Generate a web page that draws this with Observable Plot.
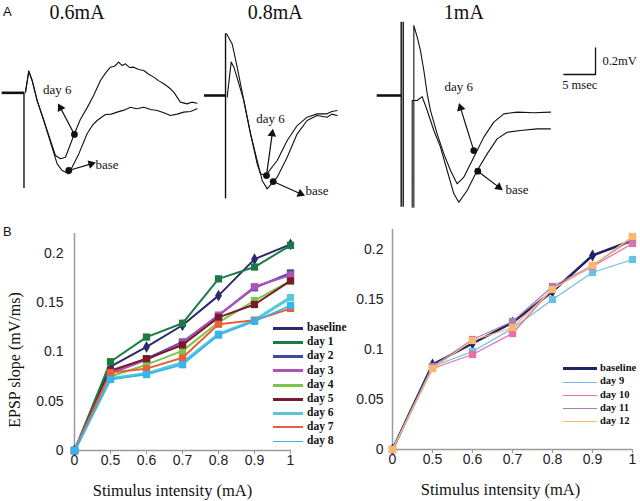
<!DOCTYPE html>
<html><head><meta charset="utf-8">
<script src="https://cdn.jsdelivr.net/npm/d3@7"></script>
<script src="https://cdn.jsdelivr.net/npm/@observablehq/plot@0.6"></script>
<style>
body{margin:0;background:#fff;}
#fig{position:relative;width:640px;height:501px;overflow:hidden;background:#fff;}
#fig svg{position:absolute;overflow:visible;}
.lbl{position:absolute;white-space:nowrap;}
g[aria-label="x-axis tick"] path, g[aria-label="x-axis"] .tick line{stroke:#999;}
</style></head><body><div id="fig"></div>
<script>
// ---------- Panel B data ----------
const intensities = ["0","0.5","0.6","0.7","0.8","0.9","1"];
const yTicks = [0, 0.05, 0.1, 0.15, 0.2];
const xTitle = "Stimulus intensity (mA)";
const yTitle = "EPSP slope (mV/ms)";

const leftNames  = ["baseline","day 1","day 2","day 3","day 4","day 5","day 6","day 7","day 8"];
const leftColors = ["#2b2a6e","#1e7a45","#3c4aa0","#b050b8","#7cc44a","#7a1a2a","#56c8da","#e8603a","#34b4f0"];
const baselineL = [0, 0.085, 0.105, 0.127, 0.157, 0.194, 0.209];
const day1  = [0, 0.090, 0.115, 0.129, 0.174, 0.186, 0.208];
const day2  = [0, 0.079, 0.093, 0.110, 0.137, 0.165, 0.180];
const day3  = [0, 0.078, 0.092, 0.109, 0.137, 0.166, 0.178];
const day4  = [0, 0.075, 0.087, 0.101, 0.130, 0.152, 0.172];
const day5  = [0, 0.081, 0.093, 0.107, 0.135, 0.148, 0.172];
const day6  = [0, 0.073, 0.078, 0.089, 0.118, 0.132, 0.155];
const day7  = [0, 0.079, 0.083, 0.094, 0.128, 0.132, 0.144];
const day8  = [0, 0.072, 0.077, 0.087, 0.117, 0.131, 0.147];
const leftValues = [baselineL, day1, day2, day3, day4, day5, day6, day7, day8];

const rightNames  = ["baseline","day 9","day 10","day 11","day 12"];
const rightColors = ["#222266","#6cc0e8","#e870a8","#a880b8","#f8b870"];
const baselineR = [0, 0.085, 0.106, 0.127, 0.158, 0.194, 0.209];
const day9  = [0, 0.083, 0.098, 0.121, 0.150, 0.177, 0.190];
const day10 = [0, 0.081, 0.095, 0.116, 0.161, 0.183, 0.206];
const day11 = [0, 0.083, 0.110, 0.128, 0.163, 0.184, 0.211];
const day12 = [0, 0.081, 0.109, 0.122, 0.160, 0.184, 0.213];
const rightValues = [baselineR, day9, day10, day11, day12];

// ---------- Panel A data (time in ms from stimulus, voltage in mV from baseline) ----------
const stimuli = ["0.6mA","0.8mA","1mA"];
const trace06Day6 = [[0.24,0.005],[0.76,0.163],[1.29,0.093],[2.08,-0.058],[3.13,-0.208],[4.18,-0.358],[4.97,-0.471],[5.76,-0.496],[6.55,-0.484],[7.97,-0.308],[8.9,-0.2],[9.97,-0.113],[11.0,-0.02],[12.08,0.093],[12.9,0.15],[13.66,0.193],[14.3,0.2],[14.97,0.231],[15.5,0.205],[16.03,0.218],[16.7,0.19],[17.34,0.193],[18.1,0.175],[18.92,0.168],[19.7,0.14],[20.5,0.118],[21.3,0.09],[22.08,0.068],[22.9,0.04],[23.66,0.005],[24.71,-0.07],[25.76,-0.083],[26.5,-0.07],[27.34,-0.078]];
const trace06Base = [[0.24,0.005],[0.76,0.163],[1.29,0.093],[2.08,-0.058],[3.13,-0.208],[4.18,-0.371],[5.24,-0.534],[6.03,-0.584],[7.08,-0.609],[8.66,-0.459],[9.97,-0.308],[10.8,-0.245],[11.55,-0.208],[12.87,-0.163],[13.8,-0.16],[14.71,-0.145],[15.8,-0.13],[16.82,-0.108],[17.8,-0.12],[18.92,-0.108],[20.0,-0.125],[21.03,-0.133],[22.1,-0.15],[23.13,-0.17],[24.2,-0.16],[25.24,-0.145],[26.3,-0.14],[27.34,-0.12]];
const trace08Base = [[0.16,0.464],[1.05,0.388],[1.84,0.213],[2.89,-0.038],[3.95,-0.288],[5.0,-0.489],[5.79,-0.639],[6.58,-0.702],[8.16,-0.614],[9.74,-0.464],[11.32,-0.288],[12.89,-0.188],[14.47,-0.15],[16.05,-0.163],[16.8,-0.14],[17.63,-0.15]];
const trace08Day6 = [[0.26,-0.013],[0.89,0.251],[1.32,0.213],[2.11,0.088],[2.89,-0.038],[3.95,-0.288],[5.0,-0.514],[5.53,-0.589],[6.32,-0.602],[8.16,-0.489],[9.74,-0.338],[11.32,-0.226],[12.89,-0.163],[14.47,-0.138],[16.05,-0.138],[16.8,-0.12],[17.63,-0.113]];
const trace1Day6 = [[2.0,-0.84],[2.0,0.526],[2.53,0.439],[3.05,0.338],[3.58,0.188],[4.11,0.013],[4.63,-0.113],[5.68,-0.288],[6.74,-0.439],[7.79,-0.564],[8.84,-0.664],[9.89,-0.614],[11.47,-0.464],[13.05,-0.313],[14.63,-0.2],[16.21,-0.138],[18.32,-0.125],[20.95,-0.13],[23.58,-0.125]];
const trace1Base = [[1.74,-0.84],[1.74,-0.038],[2.53,-0.038],[3.32,-0.008],[4.11,-0.113],[5.16,-0.263],[6.21,-0.388],[7.26,-0.564],[8.32,-0.739],[9.11,-0.802],[10.42,-0.714],[12.0,-0.564],[13.58,-0.439],[15.16,-0.326],[16.74,-0.276],[18.84,-0.263],[21.47,-0.251],[23.58,-0.251]];
const traces = [
  {stim:"0.6mA", cond:"day 6", pts:trace06Day6}, {stim:"0.6mA", cond:"base", pts:trace06Base},
  {stim:"0.8mA", cond:"day 6", pts:trace08Day6}, {stim:"0.8mA", cond:"base", pts:trace08Base},
  {stim:"1mA", cond:"day 6", pts:trace1Day6},    {stim:"1mA", cond:"base", pts:trace1Base}
];
// pre-stimulus baseline segments [tStart, tEnd]
const preStim = {"0.6mA":[-3.45,0.1], "0.8mA":[-3.32,0.05], "1mA":[-3.79,0.1]};
// stimulus artifacts [t, vTop, vBottom]
const artifacts = {"0.6mA":[[0,0,-0.72]], "0.8mA":[[0,0.464,-0.777]], "1mA":[[0,0.551,-0.84],[0.32,0.551,-0.84]]};
// marked points and arrows: [dotT, dotV, tipT, tipV]
const markers = [
  {stim:"0.6mA", cond:"day 6", a:[7.97,-0.313,5.76,-0.113]}, {stim:"0.6mA", cond:"base", a:[7.08,-0.584,10.61,-0.534]},
  {stim:"0.8mA", cond:"day 6", a:[6.47,-0.602,7.37,-0.288]}, {stim:"0.8mA", cond:"base", a:[7.53,-0.647,11.84,-0.739]},
  {stim:"1mA", cond:"day 6", a:[11.47,-0.414,9.37,-0.093]},  {stim:"1mA", cond:"base", a:[12.1,-0.569,15.42,-0.689]}
];
const annot = [
  {stim:"0.6mA", text:"day 6", t:5.24, v:0.023, anchor:"middle"}, {stim:"0.6mA", text:"base", t:11.3, v:-0.541, anchor:"start"},
  {stim:"0.8mA", text:"day 6", t:7.11, v:-0.175, anchor:"middle"}, {stim:"0.8mA", text:"base", t:12.63, v:-0.714, anchor:"start"},
  {stim:"1mA", text:"day 6", t:9.1, v:0.068, anchor:"middle"},   {stim:"1mA", text:"base", t:16.47, v:-0.707, anchor:"start"}
];
const scaleBarMs = 5, scaleBarMv = 0.2;

// ---------- layout ----------
const pxPerMs = 6.33, pxPerMv = 133;
const offMs = {"0.6mA":3.71, "0.8mA":35.55, "1mA":63.3};
const offMv = {"0.6mA":0.02, "0.8mA":0, "1mA":0};
const titlePos = {"0.6mA":12.1, "0.8mA":43.4, "1mA":73.2};
const titleV = 0.62;
const barCorner = {t:94.0, v:0.158};
const SERIF = "'Liberation Serif','Times New Roman',serif";
const SANS = "'Liberation Sans',Arial,sans-serif";
const fig = document.getElementById("fig");

// ---------- Panel A ----------
const traceRows = traces.flatMap((tr, k) => tr.pts.map(([t, v]) => ({id:k, t:t + offMs[tr.stim], v:v + offMv[tr.stim]})));
const preRows = stimuli.map(s => ({t1:preStim[s][0] + offMs[s], t2:preStim[s][1] + offMs[s], v:offMv[s]}));
const artRows = stimuli.flatMap(s => artifacts[s].map(([t, v1, v2]) => ({t:t + offMs[s], v1:v1 + offMv[s], v2:v2 + offMv[s]})));
const arrRows = markers.map(m => {
  const [a, b, c, d] = m.a, o = offMs[m.stim], ov = offMv[m.stim];
  const dx = (c - a) * pxPerMs, dy = -(d - b) * pxPerMv;
  return {x1:a + o, y1:b + ov, x2:c + o, y2:d + ov, rot:Math.atan2(dx, -dy) * 180 / Math.PI};
});
const annRows = annot.map(a => ({x:a.t + offMs[a.stim], y:a.v + offMv[a.stim], text:a.text, anchor:a.anchor}));
const titleRows = stimuli.map(s => ({x:titlePos[s], y:titleV, text:s}));
const barRows = [{t:barCorner.t - scaleBarMs, v:barCorner.v}, {t:barCorner.t, v:barCorner.v}, {t:barCorner.t, v:barCorner.v + scaleBarMv}];

const panelA = Plot.plot({
  width:640, height:215, margin:0,
  x:{domain:[0, 640 / pxPerMs], axis:null},
  y:{domain:[-(215 - 95) / pxPerMv, 95 / pxPerMv], axis:null},
  style:{background:"transparent", overflow:"visible"},
  marks:[
    Plot.ruleY(preRows, {y:"v", x1:"t1", x2:"t2", stroke:"#111", strokeWidth:2.6}),
    Plot.ruleX(artRows, {x:"t", y1:"v1", y2:"v2", stroke:"#111", strokeWidth:1.4}),
    Plot.line(traceRows, {x:"t", y:"v", z:"id", stroke:"#111", strokeWidth:1.1}),
    Plot.link(arrRows, {x1:"x1", y1:"y1", x2:"x2", y2:"y2", stroke:"#111", strokeWidth:1.2}),
    Plot.dot(arrRows, {x:"x2", y:"y2", symbol:"triangle", r:3.2, fill:"#111", rotate:"rot"}),
    Plot.dot(arrRows, {x:"x1", y:"y1", r:3.4, fill:"#111"}),
    Plot.text(annRows.filter(d => d.anchor === "middle"), {x:"x", y:"y", text:"text", textAnchor:"middle", fontFamily:SERIF, fontSize:13, fill:"#111"}),
    Plot.text(annRows.filter(d => d.anchor === "start"), {x:"x", y:"y", text:"text", textAnchor:"start", fontFamily:SERIF, fontSize:13, fill:"#111"}),
    Plot.text(titleRows, {x:"x", y:"y", text:"text", fontFamily:SERIF, fontSize:20, fill:"#111"}),
    Plot.line(barRows, {x:"t", y:"v", stroke:"#111", strokeWidth:1.3}),
    Plot.text([scaleBarMv + "mV"], {x:barCorner.t + 1.1, y:barCorner.v + 0.105, textAnchor:"start", fontFamily:SERIF, fontSize:12.5, fill:"#111"}),
    Plot.text([scaleBarMs + " msec"], {x:barCorner.t - 2.5, y:barCorner.v - 0.078, fontFamily:SERIF, fontSize:12.5, fill:"#111"})
  ]
});
panelA.style.left = "0px"; panelA.style.top = "0px";
fig.appendChild(panelA);

// ---------- Panel B ----------
function seriesPlot(names, colors, values, lay) {
  const marks = [
    Plot.ruleY([0], {stroke:"#9a9a9a", strokeWidth:1.5}),
    Plot.ruleX([intensities[0]], {stroke:"#9a9a9a", strokeWidth:1.5})
  ];
  names.forEach((n, i) => {
    const rows = intensities.map((x, j) => ({x, y:values[i][j]}));
    const isBase = n === "baseline";
    marks.push(Plot.line(rows, {x:"x", y:"y", stroke:colors[i], strokeWidth:lay.lw[i]}));
    marks.push(Plot.dot(rows, {x:"x", y:"y", fill:colors[i], symbol:isBase ? "diamond" : "square", r:isBase ? lay.rd : lay.rs}));
  });
  marks.push(Plot.text([xTitle], {frameAnchor:"bottom", dx:lay.tdx, dy:lay.tdy, fontFamily:SERIF, fontSize:16.5, fill:"#111"}));
  const p = Plot.plot({
    width:lay.w, height:281, marginLeft:lay.ml, marginRight:lay.mr, marginTop:lay.mt, marginBottom:lay.mb,
    x:{type:"point", domain:intensities, padding:0, tickSize:4, tickPadding:1, label:null},
    y:{domain:[0, 0.22], ticks:yTicks, tickFormat:d => String(d), tickSize:0, tickPadding:9, label:null},
    style:{background:"transparent", overflow:"visible", fontFamily:SANS, fontSize:"14px", color:"#222"},
    marks
  });
  p.style.left = lay.left + "px"; p.style.top = "220px";
  fig.appendChild(p);
}
seriesPlot(leftNames, leftColors, leftValues, {
  left:0, w:360, ml:72, mr:69, mt:13, mb:51, tdx:-9.5, tdy:45, rd:3.6, rs:4.1,
  lw:[2,2,2,2.2,2,2,3,2,1.5]
});
seriesPlot(rightNames, rightColors, rightValues, {
  left:330, w:310, ml:62, mr:8, mt:9, mb:52, tdx:-12, tdy:45.5, rd:3.6, rs:4.1,
  lw:[2.5,1.3,1.3,1.3,1.3]
});

// y-axis title of left chart (HTML, rotated)
const yl = document.createElement("div");
yl.className = "lbl"; yl.textContent = yTitle;
yl.style.cssText += `left:15px;top:360px;transform:translate(-50%,-50%) rotate(-90deg);font:16px ${SERIF};color:#111;`;
fig.appendChild(yl);

// ---------- legends (HTML) ----------
function legend(names, colors, o) {
  names.forEach((n, i) => {
    const cy = o.top + i * o.step;
    const ln = document.createElement("div");
    ln.style.cssText = `position:absolute;left:${o.x1}px;width:${o.x2 - o.x1}px;top:${cy - o.lw[i] / 2}px;height:0;border-top:${o.lw[i]}px solid ${colors[i]};`;
    fig.appendChild(ln);
    const t = document.createElement("div");
    t.className = "lbl";
    t.textContent = n;
    t.style.cssText += `left:${o.tx}px;top:${cy - o.fs * 0.55}px;font:bold ${o.fs}px/${o.fs}px ${SERIF};color:#111;`;
    fig.appendChild(t);
  });
}
legend(leftNames, leftColors, {top:328.5, step:14.15, x1:273, x2:303, tx:307, fs:11.5, lw:[3,3,3,3,3,3,3.5,2.5,1.5]});
legend(rightNames, rightColors, {top:369, step:13.2, x1:563, x2:597, tx:600, fs:10.5, lw:[3.5,1.2,1.2,1.2,1.2]});

// panel letters
[["A", 3, 4], ["B", 3, 224]].forEach(([s, x, y]) => {
  const d = document.createElement("div");
  d.className = "lbl"; d.textContent = s;
  d.style.cssText += `left:${x}px;top:${y}px;font:13px ${SANS};color:#111;`;
  fig.appendChild(d);
});
</script></body></html>
